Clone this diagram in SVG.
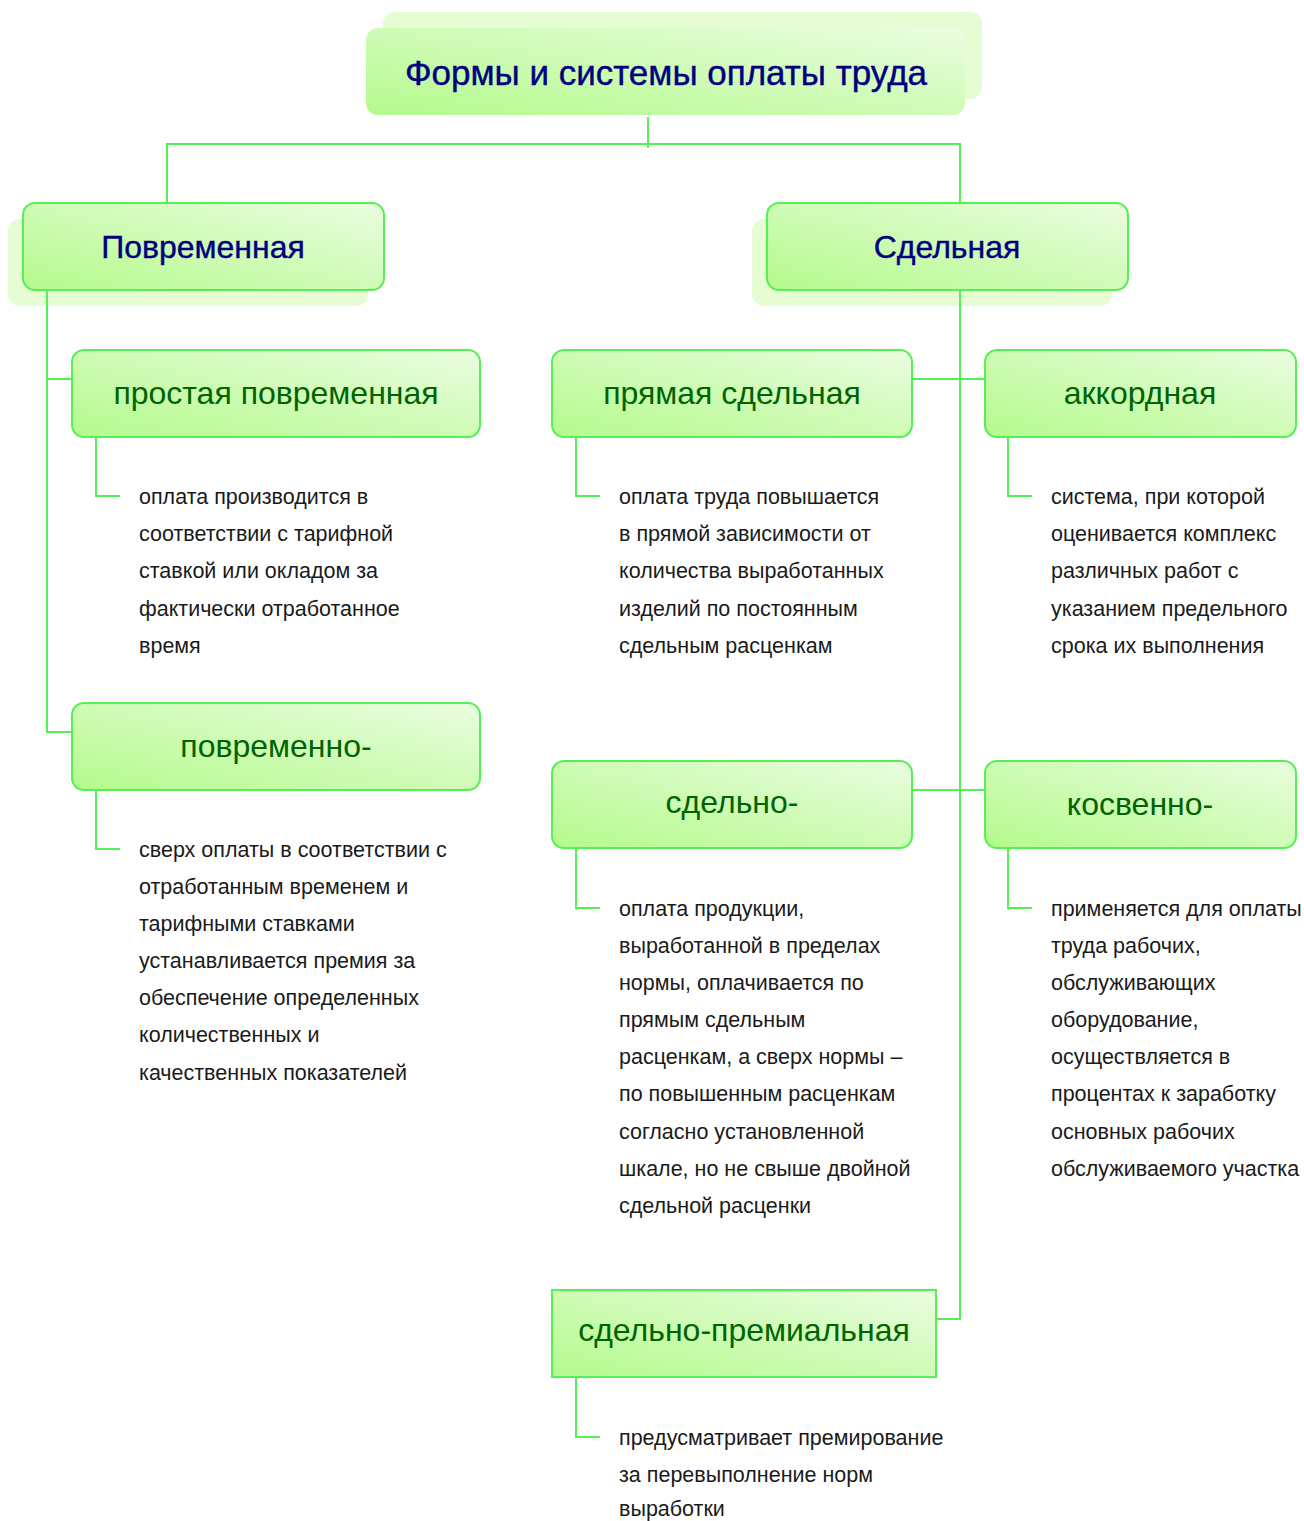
<svg xmlns="http://www.w3.org/2000/svg" width="1304" height="1521" viewBox="0 0 1304 1521">
  <defs>
    <linearGradient id="fill" x1="0" y1="1" x2="1" y2="0">
      <stop offset="0" stop-color="#b4fa8c"/>
      <stop offset="1" stop-color="#eafde0"/>
    </linearGradient>
    <style>
      .box { fill: url(#fill); stroke: #55f055; stroke-width: 2; }
      .top { fill: url(#fill); }
      .shadow { fill: #e6fcd2; }
      .conn { fill: none; stroke: #55f055; stroke-width: 2; }
      .h1 { font-family: "Liberation Sans", Arial, sans-serif; font-size: 35px; fill: #000080; stroke: #000080; stroke-width: 0.4; text-anchor: middle; }
      .h2 { font-family: "Liberation Sans", Arial, sans-serif; font-size: 32px; fill: #000080; stroke: #000080; stroke-width: 0.4; text-anchor: middle; }
      .lbl { font-family: "Liberation Sans", Arial, sans-serif; font-size: 32px; fill: #006400; text-anchor: middle; }
      .desc { font-family: "Liberation Sans", Arial, sans-serif; font-size: 21.5px; fill: #1a1a1a; }
    </style>
  </defs>

  <rect width="1304" height="1521" fill="#ffffff"/>

  <!-- root -->
  <g id="root">
    <rect class="shadow" x="383" y="12" width="599" height="87" rx="12"/>
    <rect class="top" x="366" y="28" width="599" height="87" rx="12"/>
    <text class="h1" x="666" y="85">Формы и системы оплаты труда</text>
  </g>

  <g id="time-based">
    <rect class="shadow" x="8" y="219" width="360" height="87" rx="12"/>
    <rect class="box" x="23" y="203" width="361" height="87" rx="12"/>
    <text class="h2" x="203" y="258">Повременная</text>
  </g>

  <g id="piece-rate">
    <rect class="shadow" x="752" y="219" width="360" height="87" rx="12"/>
    <rect class="box" x="767" y="203" width="361" height="87" rx="12"/>
    <text class="h2" x="947" y="258">Сдельная</text>
  </g>

  <g id="simple-time">
    <rect class="box" x="72" y="350" width="408" height="87" rx="12"/>
    <text class="lbl" x="276" y="404">простая повременная</text>
    <text class="desc">
      <tspan x="139" y="504">оплата производится в</tspan>
      <tspan x="139" y="541">соответствии с тарифной</tspan>
      <tspan x="139" y="578">ставкой или окладом за</tspan>
      <tspan x="139" y="616">фактически отработанное</tspan>
      <tspan x="139" y="653">время</tspan>
    </text>
  </g>

  <g id="time-bonus">
    <rect class="box" x="72" y="703" width="408" height="87" rx="12"/>
    <text class="lbl" x="276" y="757">повременно-</text>
    <text class="desc">
      <tspan x="139" y="857">сверх оплаты в соответствии с</tspan>
      <tspan x="139" y="894">отработанным временем и</tspan>
      <tspan x="139" y="931">тарифными ставками</tspan>
      <tspan x="139" y="968">устанавливается премия за</tspan>
      <tspan x="139" y="1005">обеспечение определенных</tspan>
      <tspan x="139" y="1042">количественных и</tspan>
      <tspan x="139" y="1080">качественных показателей</tspan>
    </text>
  </g>

  <g id="direct-piece">
    <rect class="box" x="552" y="350" width="360" height="87" rx="12"/>
    <text class="lbl" x="732" y="404">прямая сдельная</text>
    <text class="desc">
      <tspan x="619" y="504">оплата труда повышается</tspan>
      <tspan x="619" y="541">в прямой зависимости от</tspan>
      <tspan x="619" y="578">количества выработанных</tspan>
      <tspan x="619" y="616">изделий по постоянным</tspan>
      <tspan x="619" y="653">сдельным расценкам</tspan>
    </text>
  </g>

  <g id="lump-sum">
    <rect class="box" x="985" y="350" width="311" height="87" rx="12"/>
    <text class="lbl" x="1140" y="404">аккордная</text>
    <text class="desc">
      <tspan x="1051" y="504">система, при которой</tspan>
      <tspan x="1051" y="541">оценивается комплекс</tspan>
      <tspan x="1051" y="578">различных работ с</tspan>
      <tspan x="1051" y="616">указанием предельного</tspan>
      <tspan x="1051" y="653">срока их выполнения</tspan>
    </text>
  </g>

  <g id="piece-progressive">
    <rect class="box" x="552" y="761" width="360" height="87" rx="12"/>
    <text class="lbl" x="732" y="813">сдельно-</text>
    <text class="desc">
      <tspan x="619" y="916">оплата продукции,</tspan>
      <tspan x="619" y="953">выработанной в пределах</tspan>
      <tspan x="619" y="990">нормы, оплачивается по</tspan>
      <tspan x="619" y="1027">прямым сдельным</tspan>
      <tspan x="619" y="1064">расценкам, а сверх нормы –</tspan>
      <tspan x="619" y="1101">по повышенным расценкам</tspan>
      <tspan x="619" y="1139">согласно установленной</tspan>
      <tspan x="619" y="1176">шкале, но не свыше двойной</tspan>
      <tspan x="619" y="1213">сдельной расценки</tspan>
    </text>
  </g>

  <g id="indirect-piece">
    <rect class="box" x="985" y="761" width="311" height="87" rx="12"/>
    <text class="lbl" x="1140" y="815">косвенно-</text>
    <text class="desc">
      <tspan x="1051" y="916">применяется для оплаты</tspan>
      <tspan x="1051" y="953">труда рабочих,</tspan>
      <tspan x="1051" y="990">обслуживающих</tspan>
      <tspan x="1051" y="1027">оборудование,</tspan>
      <tspan x="1051" y="1064">осуществляется в</tspan>
      <tspan x="1051" y="1101">процентах к заработку</tspan>
      <tspan x="1051" y="1139">основных рабочих</tspan>
      <tspan x="1051" y="1176">обслуживаемого участка</tspan>
    </text>
  </g>

  <g id="piece-bonus">
    <rect class="box" x="552" y="1290" width="384" height="87"/>
    <text class="lbl" x="744" y="1341">сдельно-премиальная</text>
    <text class="desc">
      <tspan x="619" y="1445">предусматривает премирование</tspan>
      <tspan x="619" y="1482">за перевыполнение норм</tspan>
      <tspan x="619" y="1516">выработки</tspan>
    </text>
  </g>

  <!-- connectors, drawn last so they run over the soft shadow plates -->
  <g id="connectors">
    <path class="conn" d="M648 117 V148 M167 203 V144 H960 V203"/>
    <path class="conn" d="M47 291 V732 H71 M47 379 H71"/>
    <path class="conn" d="M960 291 V1319 H937 M913 379 H984 M913 790 H984"/>
    <path class="conn" d="M96 438 V496 H120"/>
    <path class="conn" d="M96 791 V849 H120"/>
    <path class="conn" d="M576 438 V496 H600"/>
    <path class="conn" d="M1008 438 V496 H1032"/>
    <path class="conn" d="M576 849 V908 H600"/>
    <path class="conn" d="M1008 849 V908 H1032"/>
    <path class="conn" d="M576 1378 V1437 H600"/>
  </g>
</svg>
